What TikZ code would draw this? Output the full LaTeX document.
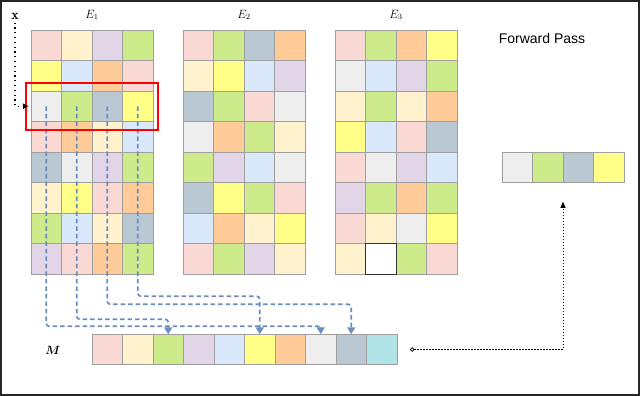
\documentclass[tikz,border=0pt]{standalone}
\usepackage{amsmath,amssymb}
\usepackage{fontspec}
\usepackage{tikz}
\usetikzlibrary{arrows.meta, positioning, fit, calc}
\newfontfamily\passfont{Liberation Sans}
\definecolor{pk}{HTML}{FAD9D5}
\definecolor{cr}{HTML}{FFF2CC}
\definecolor{lv}{HTML}{E1D5E7}
\definecolor{gr}{HTML}{CDEB8B}
\definecolor{yl}{HTML}{FFFF88}
\definecolor{lb}{HTML}{DAE8FC}
\definecolor{og}{HTML}{FFCC99}
\definecolor{sl}{HTML}{BAC8D3}
\definecolor{lg}{HTML}{EEEEEE}
\definecolor{cy}{HTML}{B0E3E6}
\definecolor{wh}{HTML}{FFFFFF}
\definecolor{linkblue}{HTML}{6C8EBF}
\tikzset{
    cell/.style={draw=gray!75, line width=0.9pt, minimum size=30.5pt,
        inner sep=0pt, outer sep=0pt},
    link/.style={linkblue, line width=1.7pt, dash pattern=on 4.5pt off 3pt,
        rounded corners=3pt, -{Triangle[width=8pt,length=7pt]}},
    lbl/.style={font=\fontsize{11.5}{13}\selectfont}
}

\begin{document}
\begin{tikzpicture}[x=1pt, y=-1pt]
    \useasboundingbox (0,0) rectangle (640,396);
    \draw[black!85, line width=1.5pt] (1,1) rectangle (639,395);

    % Embedding table E_1
    \foreach \row [count=\r] in {
        {pk,cr,lv,gr}, {yl,lb,og,pk}, {lg,gr,sl,yl}, {pk,og,cr,lb},
        {sl,lg,lv,gr}, {cr,yl,pk,og}, {gr,lb,cr,sl}, {lv,pk,og,gr}} {
        \foreach \col [count=\c] in \row {
            \node[cell, fill=\col] (e1-\r-\c) at ({31+30.5*(\c-0.5)},{30+30.5*(\r-0.5)}) {};
        }
    }

    % Embedding table E_2
    \foreach \row [count=\r] in {
        {pk,gr,sl,og}, {cr,yl,lb,lv}, {sl,gr,pk,lg}, {lg,og,gr,cr},
        {gr,lv,lb,lg}, {sl,yl,gr,pk}, {lb,og,cr,yl}, {pk,gr,lv,cr}} {
        \foreach \col [count=\c] in \row {
            \node[cell, fill=\col] (e2-\r-\c) at ({183+30.5*(\c-0.5)},{30+30.5*(\r-0.5)}) {};
        }
    }

    % Embedding table E_3
    \foreach \row [count=\r] in {
        {pk,gr,og,yl}, {lg,lb,lv,gr}, {cr,gr,cr,og}, {yl,lb,pk,sl},
        {pk,lg,lv,lb}, {lv,gr,og,gr}, {pk,cr,lg,yl}, {cr,wh,gr,pk}} {
        \foreach \col [count=\c] in \row {
            \node[cell, fill=\col] (e3-\r-\c) at ({335+30.5*(\c-0.5)},{30+30.5*(\r-0.5)}) {};
        }
    }
    \draw[black!80, line width=0.9pt] (e3-8-2.south west) rectangle (e3-8-2.north east);

    % Table labels
    \node[lbl] (lab1) at (92,15) {$E_1$};
    \node[lbl] (lab2) at (244,15) {$E_2$};
    \node[lbl] (lab3) at (396,15) {$E_3$};
    \node[font=\passfont\fontsize{14}{16}\selectfont] (fwd) at (542,38) {Forward Pass};

    % Memory vector M
    \foreach \col [count=\c] in {pk,cr,gr,lv,lb,yl,og,lg,sl,cy} {
        \node[cell, fill=\col] (m-\c) at ({92+30.5*(\c-0.5)},349.5) {};
    }
    \node[lbl] (mlab) at (53,350) {$\boldsymbol{M}$};

    % Output row
    \foreach \col [count=\c] in {lg,gr,sl,yl} {
        \node[cell, fill=\col] (o-\c) at ({502+30.5*(\c-0.5)},167.5) {};
    }

    % Lookups from the selected row into M
    \draw[link] (e1-3-1.center) |- ([yshift=8pt]m-8.north) -- (m-8.north);
    \draw[link] (e1-3-2.center) |- ([yshift=15pt]m-3.north) -- (m-3.north);
    \draw[link] (e1-3-3.center) |- ([yshift=30pt]m-9.north) -- (m-9.north);
    \draw[link] (e1-3-4.center) |- ([yshift=38pt]m-6.north) -- (m-6.north);

    % Selected row
    \node[draw=red, line width=2pt, fit=(e1-3-1)(e1-3-4), inner xsep=5pt, inner ysep=8pt] (sel) {};

    % Input x
    \node[font=\fontsize{14}{16}\selectfont] (inp) at (15,16) {$\mathbf{x}$};
    \draw[line width=1.2pt, dash pattern=on 1.2pt off 3.6pt, shorten >=2pt,
        -{Latex[length=6pt,width=6pt]}] (inp.south) |- (e1-3-1.west);

    % Forward pass to output
    \coordinate (mout) at ([xshift=13pt]m-10.east);
    \coordinate (outin) at ([yshift=-19pt]o-2.south east);
    \draw[line width=0.8pt, dash pattern=on 1.5pt off 1.5pt,
        {Circle[open,length=4.5pt,width=4.5pt]}-{Triangle[length=6pt,width=5pt]}] (mout) -| (outin);
\end{tikzpicture}
\end{document}
